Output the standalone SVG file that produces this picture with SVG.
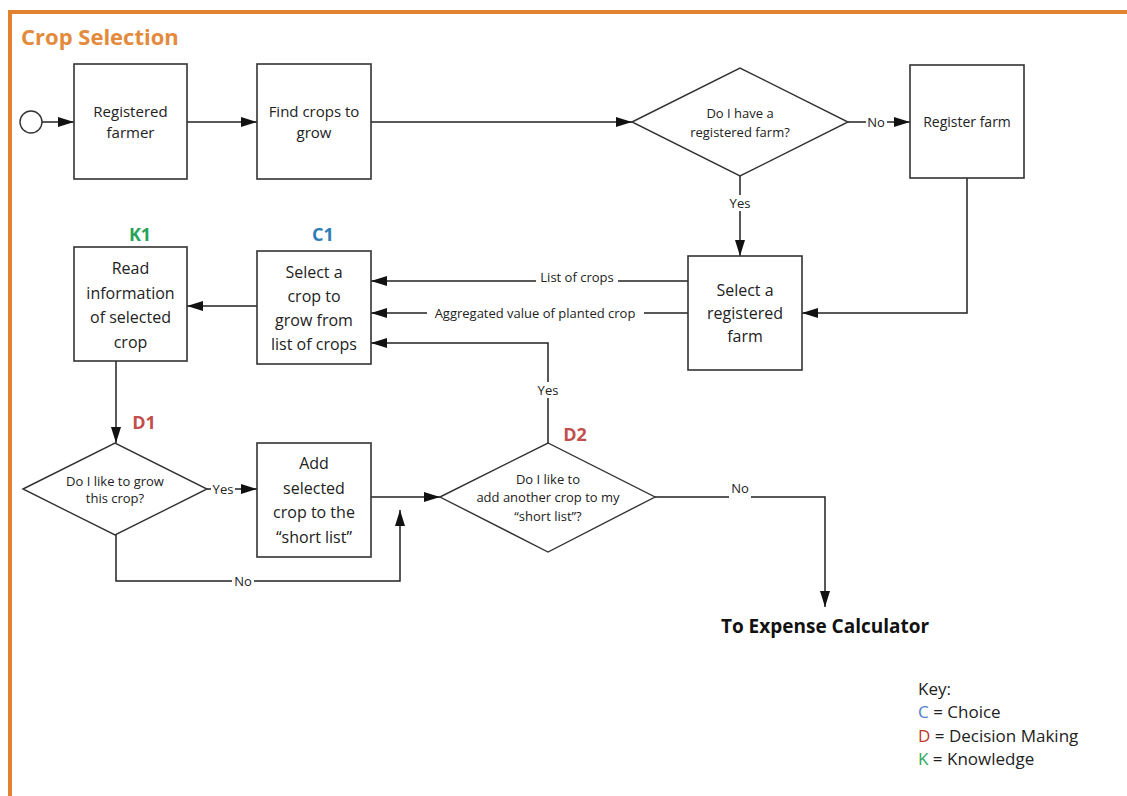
<svg xmlns="http://www.w3.org/2000/svg" width="1127" height="796" viewBox="0 0 1127 796">
<style>
  .box { fill: #ffffff; stroke: #333333; stroke-width: 1.6; }
  .dia { fill: #ffffff; stroke: #333333; stroke-width: 1.4; }
  .t { font-family: "Open Sans", "Liberation Sans", sans-serif; fill: #222222; text-anchor: middle; }
  .t15 { font-size: 15px; }
  .t16 { font-size: 16px; }
  .t14 { font-size: 14px; }
  .t13 { font-size: 13px; }
  .lbl { font-family: "Open Sans", "Liberation Sans", sans-serif; font-size: 13px; fill: #222222; text-anchor: middle; }
  .tag { font-family: "Open Sans", "Liberation Sans", sans-serif; font-size: 18px; font-weight: bold; text-anchor: middle; }
  .conn { fill: none; stroke: #222222; stroke-width: 1.5; }
  .bg { fill: #ffffff; }
  .key { font-family: "Open Sans", "Liberation Sans", sans-serif; font-size: 17px; fill: #222222; }
</style>
<defs>
  <marker id="arr" markerUnits="userSpaceOnUse" markerWidth="16" markerHeight="10" refX="16" refY="5" orient="auto">
    <path d="M0,0 L16,5 L0,10 z" fill="#111111"/>
  </marker>
</defs>
<rect x="0" y="0" width="1127" height="796" fill="#ffffff"/>
<g id="frame">
  <line x1="8" y1="12" x2="1127" y2="12" stroke="#E3822E" stroke-width="4"/>
  <line x1="10" y1="10" x2="10" y2="796" stroke="#E3822E" stroke-width="4"/>
  <text x="21" y="45" font-family="Open Sans, Liberation Sans, sans-serif" font-size="22" font-weight="bold" fill="#E38A3C">Crop Selection</text>
</g>

<g id="connectors">
  <line class="conn" x1="42" y1="122" x2="74" y2="122" marker-end="url(#arr)"/>
  <line class="conn" x1="187" y1="122" x2="257" y2="122" marker-end="url(#arr)"/>
  <line class="conn" x1="371" y1="122" x2="632" y2="122" marker-end="url(#arr)"/>
  <line class="conn" x1="848" y1="122" x2="910" y2="122" marker-end="url(#arr)"/>
  <line class="conn" x1="740" y1="176" x2="740" y2="256" marker-end="url(#arr)"/>
  <path class="conn" d="M967,178 V313 H802" marker-end="url(#arr)"/>
  <line class="conn" x1="688" y1="281" x2="371" y2="281" marker-end="url(#arr)"/>
  <line class="conn" x1="688" y1="313" x2="371" y2="313" marker-end="url(#arr)"/>
  <line class="conn" x1="257" y1="306" x2="187" y2="306" marker-end="url(#arr)"/>
  <line class="conn" x1="116" y1="361" x2="116" y2="443" marker-end="url(#arr)"/>
  <line class="conn" x1="207" y1="489" x2="257" y2="489" marker-end="url(#arr)"/>
  <line class="conn" x1="371" y1="497" x2="440" y2="497" marker-end="url(#arr)"/>
  <path class="conn" d="M116,535 V581 H400 V510" marker-end="url(#arr)"/>
  <path class="conn" d="M548,443 V343 H371" marker-end="url(#arr)"/>
  <path class="conn" d="M655,497 H825 V607" marker-end="url(#arr)"/>

  <rect class="bg" x="866" y="114" width="21" height="16"/>
  <text class="lbl" x="876" y="126.5">No</text>
  <rect class="bg" x="728" y="195" width="24" height="16"/>
  <text class="lbl" x="740" y="207.5">Yes</text>
  <rect class="bg" x="536" y="270" width="82" height="13"/>
  <text class="lbl" x="577" y="281.5">List of crops</text>
  <rect class="bg" x="427" y="305" width="217" height="16"/>
  <text class="lbl" x="535" y="317.5">Aggregated value of planted crop</text>
  <rect class="bg" x="211" y="481" width="24" height="16"/>
  <text class="lbl" x="223" y="493.5">Yes</text>
  <rect class="bg" x="232" y="573" width="22" height="16"/>
  <text class="lbl" x="243" y="585.5">No</text>
  <rect class="bg" x="536" y="382" width="24" height="16"/>
  <text class="lbl" x="548" y="394.5">Yes</text>
  <rect class="bg" x="729" y="480" width="22" height="19"/>
  <text class="lbl" x="740" y="492.5">No</text>
</g>

<g id="start">
  <circle cx="31" cy="122" r="11" fill="#ffffff" stroke="#333333" stroke-width="1.4"/>
</g>

<g id="registered-farmer">
  <rect class="box" x="74" y="64" width="113" height="115"/>
  <text class="t t15" x="130.5" y="117">Registered</text>
  <text class="t t15" x="130.5" y="138">farmer</text>
</g>

<g id="find-crops">
  <rect class="box" x="257" y="64" width="114" height="115"/>
  <text class="t t15" x="314" y="117">Find crops to</text>
  <text class="t t15" x="314" y="138">grow</text>
</g>

<g id="have-farm">
  <polygon class="dia" points="632,122 740,68 848,122 740,176"/>
  <text class="t t13" x="740" y="117.5">Do I have a</text>
  <text class="t t13" x="740" y="136.5">registered farm?</text>
</g>

<g id="register-farm">
  <rect class="box" x="910" y="65" width="114" height="113"/>
  <text class="t t14" x="967" y="127">Register farm</text>
</g>

<g id="select-farm">
  <rect class="box" x="688" y="256" width="114" height="114"/>
  <text class="t t16" x="745" y="295.5">Select a</text>
  <text class="t t16" x="745" y="318.5">registered</text>
  <text class="t t16" x="745" y="341.5">farm</text>
</g>

<g id="select-crop">
  <rect class="box" x="257" y="251" width="114" height="113"/>
  <text class="t t16" x="314" y="277.5">Select a</text>
  <text class="t t16" x="314" y="301.5">crop to</text>
  <text class="t t16" x="314" y="325.5">grow from</text>
  <text class="t t16" x="314" y="349.5">list of crops</text>
  <text class="tag" x="323" y="241" fill="#2F7DB5">C1</text>
</g>

<g id="read-info">
  <rect class="box" x="74" y="247" width="113" height="114"/>
  <text class="t t16" x="130.5" y="273.5">Read</text>
  <text class="t t16" x="130.5" y="298.5">information</text>
  <text class="t t16" x="130.5" y="322.5">of selected</text>
  <text class="t t16" x="130.5" y="347.5">crop</text>
  <text class="tag" x="140" y="241" fill="#27A35A">K1</text>
</g>

<g id="like-grow">
  <polygon class="dia" points="23,489 115,443 207,489 115,535"/>
  <text class="t t13" x="115" y="485.5">Do I like to grow</text>
  <text class="t t13" x="115" y="502.5">this crop?</text>
  <text class="tag" x="144" y="429" fill="#C0504D">D1</text>
</g>

<g id="add-crop">
  <rect class="box" x="257" y="443" width="114" height="114"/>
  <text class="t t16" x="314" y="468.5">Add</text>
  <text class="t t16" x="314" y="493.5">selected</text>
  <text class="t t16" x="314" y="517.5">crop to the</text>
  <text class="t t16" x="314" y="542.5">“short list”</text>
</g>

<g id="add-another">
  <polygon class="dia" points="440,497 548,443 655,497 548,552"/>
  <text class="t t13" x="548" y="483.5">Do I like to</text>
  <text class="t t13" x="548" y="501.5">add  another crop to my</text>
  <text class="t t13" x="548" y="520.5">“short list”?</text>
  <text class="tag" x="575" y="441" fill="#C0504D">D2</text>
</g>

<g id="to-expense">
  <text x="825" y="633" font-family="Open Sans, Liberation Sans, sans-serif" font-size="19" font-weight="bold" fill="#111111" text-anchor="middle">To Expense Calculator</text>
</g>

<g id="key">
  <text class="key" x="918" y="695">Key:</text>
  <text class="key" x="918" y="718"><tspan fill="#4F7FCC">C</tspan> = Choice</text>
  <text class="key" x="918" y="742"><tspan fill="#C0392B">D</tspan> = Decision Making</text>
  <text class="key" x="918" y="765"><tspan fill="#2EAA5C">K</tspan> = Knowledge</text>
</g>
</svg>
